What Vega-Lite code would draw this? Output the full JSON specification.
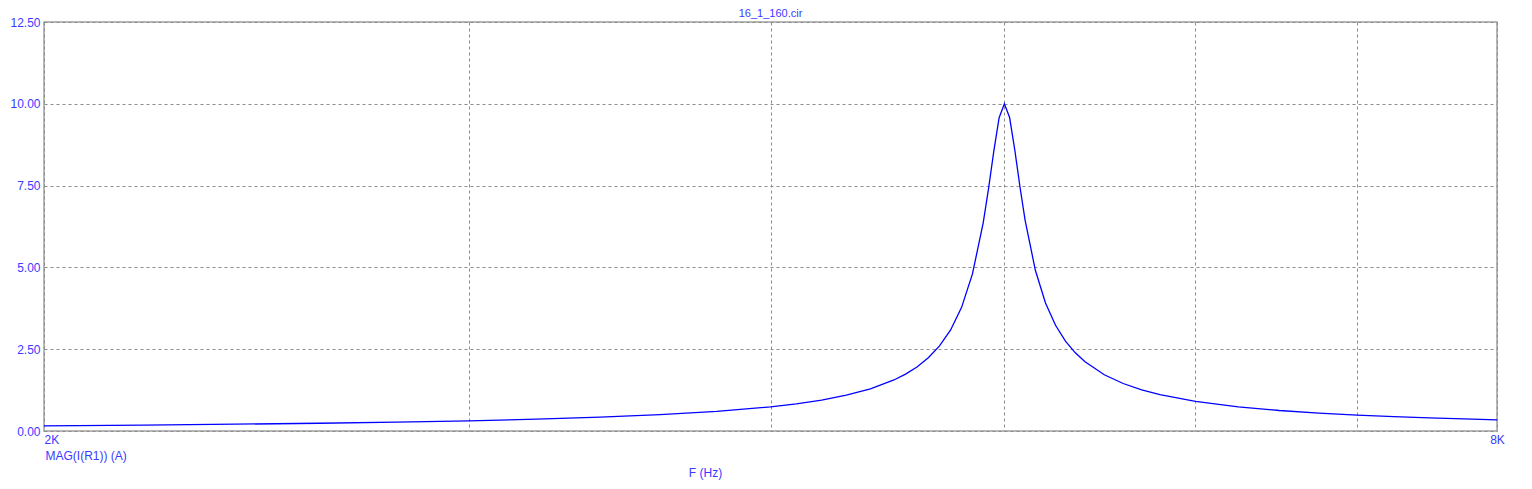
{
  "$schema": "https://vega.github.io/schema/vega-lite/v6.json",
  "width": 1453,
  "height": 409,
  "autosize": {"type": "none"},
  "padding": {"left": 44, "top": 22, "right": 35, "bottom": 58},
  "background": "white",
  "title": {"text": "16_1_160.cir", "anchor": "middle", "color": "#3a3aff", "font": "Liberation Sans", "fontSize": 11, "fontWeight": "normal", "offset": -3},
  "config": {
    "view": {"stroke": "#a0a0a0", "strokeWidth": 1.5},
    "axis": {
      "labelFont": "Liberation Sans",
      "labelFontSize": 12,
      "labelColor": "#3a3aff",
      "titleFont": "Liberation Sans",
      "titleFontSize": 12,
      "titleFontWeight": "normal",
      "titleColor": "#3a3aff",
      "grid": true,
      "gridColor": "#8c8c8c",
      "gridDash": [3, 3],
      "gridWidth": 1,
      "ticks": false,
      "domain": false
    }
  },
  "data": {
    "values": [
      {"f": 2000, "i": 0.1587},
      {"f": 2200, "i": 0.1819},
      {"f": 2400, "i": 0.2079},
      {"f": 2600, "i": 0.2375},
      {"f": 2800, "i": 0.2719},
      {"f": 3000, "i": 0.3123},
      {"f": 3200, "i": 0.3611},
      {"f": 3400, "i": 0.4213},
      {"f": 3600, "i": 0.4977},
      {"f": 3800, "i": 0.5987},
      {"f": 4000, "i": 0.7387},
      {"f": 4100, "i": 0.8315},
      {"f": 4200, "i": 0.9468},
      {"f": 4300, "i": 1.0943},
      {"f": 4400, "i": 1.2894},
      {"f": 4500, "i": 1.5596},
      {"f": 4550, "i": 1.7378},
      {"f": 4600, "i": 1.9578},
      {"f": 4650, "i": 2.2366},
      {"f": 4700, "i": 2.5994},
      {"f": 4750, "i": 3.089},
      {"f": 4800, "i": 3.779},
      {"f": 4850, "i": 4.8},
      {"f": 4900, "i": 6.364},
      {"f": 4925, "i": 7.408},
      {"f": 4950, "i": 8.563},
      {"f": 4975, "i": 9.576},
      {"f": 5000, "i": 10.0},
      {"f": 5025, "i": 9.58},
      {"f": 5050, "i": 8.586},
      {"f": 5075, "i": 7.458},
      {"f": 5100, "i": 6.439},
      {"f": 5150, "i": 4.911},
      {"f": 5200, "i": 3.91},
      {"f": 5250, "i": 3.2314},
      {"f": 5300, "i": 2.7485},
      {"f": 5350, "i": 2.3901},
      {"f": 5400, "i": 2.1145},
      {"f": 5500, "i": 1.72},
      {"f": 5600, "i": 1.452},
      {"f": 5700, "i": 1.2583},
      {"f": 5800, "i": 1.1119},
      {"f": 6000, "i": 0.9054},
      {"f": 6250, "i": 0.7387},
      {"f": 6500, "i": 0.6268},
      {"f": 6750, "i": 0.5463},
      {"f": 7000, "i": 0.4855},
      {"f": 7250, "i": 0.438},
      {"f": 7500, "i": 0.3997},
      {"f": 7750, "i": 0.3681},
      {"f": 8000, "i": 0.3417}
    ]
  },
  "mark": {"type": "line", "color": "#0000ff", "strokeWidth": 1.3, "interpolate": "linear"},
  "encoding": {
    "x": {
      "field": "f",
      "type": "quantitative",
      "scale": {"type": "log", "domain": [2000, 8000], "nice": false},
      "axis": {
        "values": [2000, 3000, 4000, 5000, 6000, 7000, 8000],
        "labelExpr": "datum.value == 2000 ? '2K' : (datum.value == 8000 ? '8K' : '')",
        "labelAlign": {"condition": {"test": "datum.value <= 2000", "value": "left"}, "value": "center"},
        "labelBaseline": "top",
        "labelPadding": 3,
        "labelFlush": false,
        "labelOverlap": false,
        "title": "F (Hz)",
        "titleX": 661,
        "titleY": 45,
        "titleAlign": "center",
        "titleBaseline": "alphabetic",
        "titleFontSize": 12
      }
    },
    "y": {
      "field": "i",
      "type": "quantitative",
      "scale": {"domain": [0, 12.5], "nice": false, "zero": true},
      "axis": {
        "values": [0, 2.5, 5, 7.5, 10, 12.5],
        "format": ".2f",
        "labelPadding": 4,
        "title": "MAG(I(R1)) (A)",
        "titleAngle": 0,
        "titleX": 1,
        "titleY": 437,
        "titleAlign": "left",
        "titleBaseline": "alphabetic"
      }
    }
  }
}
